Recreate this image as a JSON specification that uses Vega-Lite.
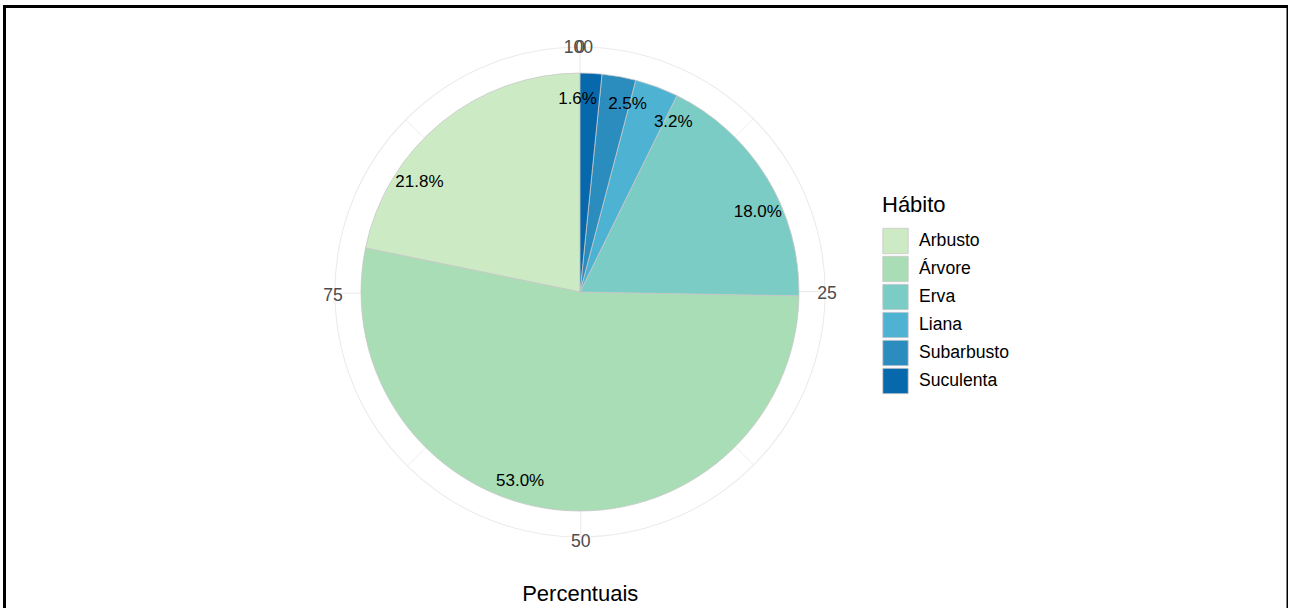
{
  "$schema": "https://vega.github.io/schema/vega-lite/v6.json",
  "width": 1283.5,
  "height": 613.5,
  "autosize": {"type": "none"},
  "padding": {"left": 4.5, "top": 6.5, "right": 0, "bottom": 0},
  "background": "white",
  "config": {
    "font": "Liberation Sans",
    "view": {"stroke": "black", "strokeWidth": 3}
  },
  "title": {
    "text": "Percentuais",
    "orient": "bottom",
    "frame": "group",
    "anchor": "middle",
    "baseline": "alphabetic",
    "offset": -19,
    "dx": -66,
    "fontSize": 22,
    "fontWeight": "normal",
    "color": "black"
  },
  "datasets": {
    "habitos": [
      {"habito": "Arbusto", "perc": 21.8, "rotulo": "21.8%", "pos": 84.8, "ordem": 1},
      {"habito": "Árvore", "perc": 53.0, "rotulo": "53.0%", "pos": 55.0, "ordem": 2},
      {"habito": "Erva", "perc": 18.0, "rotulo": "18.0%", "pos": 18.1, "ordem": 3},
      {"habito": "Liana", "perc": 3.2, "rotulo": "3.2%", "pos": 7.9, "ordem": 4},
      {"habito": "Subarbusto", "perc": 2.5, "rotulo": "2.5%", "pos": 3.9, "ordem": 5},
      {"habito": "Suculenta", "perc": 1.6, "rotulo": "1.6%", "pos": 99.9, "ordem": 6}
    ],
    "grade": [
      {"v": 0, "tipo": "major"},
      {"v": 12.5, "tipo": "minor"},
      {"v": 25, "tipo": "major"},
      {"v": 37.5, "tipo": "minor"},
      {"v": 50, "tipo": "major"},
      {"v": 62.5, "tipo": "minor"},
      {"v": 75, "tipo": "major"},
      {"v": 87.5, "tipo": "minor"}
    ],
    "marcas": [
      {"v": 0, "t": "0"},
      {"v": 25, "t": "25"},
      {"v": 50, "t": "50"},
      {"v": 75, "t": "75"},
      {"v": 100, "t": "100"}
    ],
    "centro": [{"cx": 0.4484, "cy": 0.5346}]
  },
  "layer": [
    {
      "data": {"name": "centro"},
      "mark": {"type": "arc", "radius": 245, "theta": 0, "theta2": 6.2832, "fill": null, "stroke": "#ebebeb", "strokeWidth": 1.1},
      "encoding": {
        "x": {"field": "cx", "type": "quantitative", "scale": {"domain": [0, 1], "zero": false, "nice": false}, "axis": null},
        "y": {"field": "cy", "type": "quantitative", "scale": {"domain": [0, 1], "zero": false, "nice": false}, "axis": null}
      }
    },
    {
      "data": {"name": "grade"},
      "mark": {"type": "arc", "radius": 245, "radius2": 0, "fill": null, "stroke": "#ebebeb"},
      "encoding": {
        "x": {"datum": 0.4484, "type": "quantitative"},
        "y": {"datum": 0.5346, "type": "quantitative"},
        "theta": {"field": "v", "type": "quantitative", "stack": null, "scale": {"domain": [0, 100.1], "zero": true, "nice": false}},
        "theta2": {"field": "v"},
        "strokeWidth": {"field": "tipo", "type": "nominal", "scale": {"domain": ["major", "minor"], "range": [1.1, 0.55]}, "legend": null}
      }
    },
    {
      "data": {"name": "habitos"},
      "mark": {"type": "arc", "radius": 219, "stroke": "#c8c8c8", "strokeWidth": 0.8},
      "encoding": {
        "x": {"datum": 0.4484, "type": "quantitative"},
        "y": {"datum": 0.5346, "type": "quantitative"},
        "theta": {"field": "perc", "type": "quantitative", "stack": true},
        "order": {"field": "ordem", "type": "quantitative", "sort": "descending"},
        "color": {
          "field": "habito",
          "type": "nominal",
          "title": "Hábito",
          "scale": {
            "domain": ["Arbusto", "Árvore", "Erva", "Liana", "Subarbusto", "Suculenta"],
            "range": ["#ccebc5", "#a8ddb5", "#7bccc4", "#4eb3d3", "#2b8cbe", "#0868ac"]
          },
          "legend": {
            "orient": "none",
            "legendX": 877.5,
            "legendY": 188,
            "symbolType": "square",
            "symbolSize": 645,
            "symbolStrokeColor": "#c8c8c8",
            "symbolStrokeWidth": 0.8,
            "symbolOpacity": 1,
            "rowPadding": -5,
            "labelOffset": 10,
            "labelFontSize": 17.6,
            "labelColor": "black",
            "labelFont": "Liberation Sans",
            "titleFontSize": 22,
            "titleFontWeight": "normal",
            "titleColor": "black",
            "titleFont": "Liberation Sans",
            "titlePadding": 11
          }
        }
      }
    },
    {
      "data": {"name": "habitos"},
      "mark": {"type": "text", "radius": 196, "fontSize": 17, "color": "black", "align": "center", "baseline": "middle", "dy": 2.5},
      "encoding": {
        "x": {"datum": 0.4484, "type": "quantitative"},
        "y": {"datum": 0.5346, "type": "quantitative"},
        "theta": {"field": "pos", "type": "quantitative", "stack": null},
        "text": {"field": "rotulo", "type": "nominal"}
      }
    },
    {
      "data": {"name": "marcas"},
      "mark": {"type": "text", "radius": 247, "fontSize": 17.6, "color": "#4d4d4d", "align": "center", "baseline": "middle", "dy": 2.5},
      "encoding": {
        "x": {"datum": 0.4484, "type": "quantitative"},
        "y": {"datum": 0.5346, "type": "quantitative"},
        "theta": {"field": "v", "type": "quantitative", "stack": null},
        "text": {"field": "t", "type": "nominal"}
      }
    }
  ]
}
